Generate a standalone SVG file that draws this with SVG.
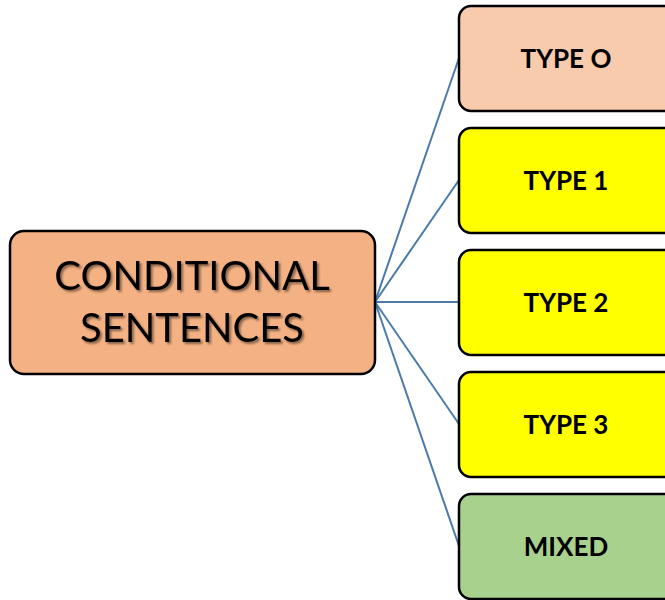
<svg xmlns="http://www.w3.org/2000/svg" width="665" height="600" viewBox="0 0 665 600">
<defs>
<filter id="sh" x="-10%" y="-20%" width="120%" height="140%">
<feGaussianBlur in="SourceAlpha" stdDeviation="1.2"/>
<feOffset dx="2" dy="2" result="b"/>
<feComponentTransfer><feFuncA type="linear" slope="0.45"/></feComponentTransfer>
<feMerge><feMergeNode/><feMergeNode in="SourceGraphic"/></feMerge>
</filter>
</defs>
<style>
.box{stroke:#000;stroke-width:2.5}
.lbl{font-family:Lato,"Open Sans","Liberation Sans",sans-serif;font-weight:bold;font-size:26px;text-anchor:middle;fill:#000}
.main{font-family:Lato,"Open Sans","Liberation Sans",sans-serif;font-size:40px;text-anchor:middle;fill:#000}
.con{stroke:#4a7bab;stroke-width:2;fill:none}
</style>
<g id="connectors">
<line class="con" x1="375" y1="302" x2="459" y2="58"/>
<line class="con" x1="375" y1="302" x2="459" y2="180"/>
<line class="con" x1="375" y1="302" x2="459" y2="302"/>
<line class="con" x1="375" y1="302" x2="459" y2="424"/>
<line class="con" x1="375" y1="302" x2="459" y2="546"/>
</g>
<g id="main">
<rect class="box" x="10" y="231" width="365" height="143" rx="14" fill="#f4b183"/>
<g filter="url(#sh)">
<text class="main" x="192" y="290">CONDITIONAL</text>
<text class="main" x="192" y="342">SENTENCES</text>
</g>
</g>
<g id="type0">
<rect class="box" x="459" y="6" width="220" height="105" rx="12" fill="#f8cbad"/>
<text class="lbl" x="566" y="68">TYPE O</text>
</g>
<g id="type1">
<rect class="box" x="459" y="128" width="220" height="105" rx="12" fill="#ffff00"/>
<text class="lbl" x="566" y="190">TYPE 1</text>
</g>
<g id="type2">
<rect class="box" x="459" y="250" width="220" height="105" rx="12" fill="#ffff00"/>
<text class="lbl" x="566" y="312">TYPE 2</text>
</g>
<g id="type3">
<rect class="box" x="459" y="372" width="220" height="105" rx="12" fill="#ffff00"/>
<text class="lbl" x="566" y="434">TYPE 3</text>
</g>
<g id="mixed">
<rect class="box" x="459" y="494" width="220" height="105" rx="12" fill="#a9d18e"/>
<text class="lbl" x="566" y="556">MIXED</text>
</g>
</svg>
